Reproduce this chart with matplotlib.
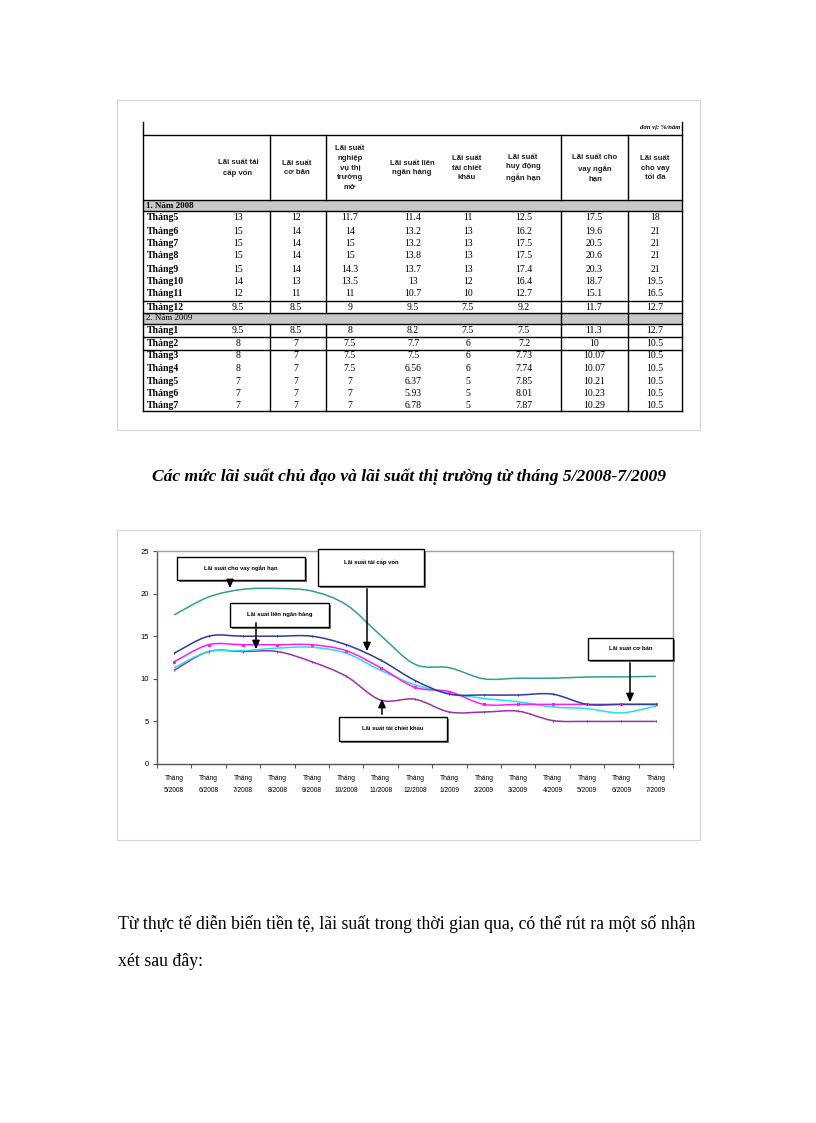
import matplotlib
matplotlib.use("Agg")
import matplotlib.pyplot as plt
from matplotlib.path import Path
from matplotlib.patches import PathPatch, Rectangle

# ---------------- data: table ----------------
col_headers = ["Lãi suất tái\ncấp vốn", "Lãi suất\ncơ bản", "Lãi suất\nnghiệp\nvụ thị\ntrường\nmở",
               "Lãi suất liên\nngân hàng", "Lãi suất\ntái chiết\nkhấu", "Lãi suất\nhuy động\nngắn hạn",
               "Lãi suất cho\nvay ngắn\nhạn", "Lãi suất\ncho vay\ntối đa"]
rows_2008 = ["Tháng5", "Tháng6", "Tháng7", "Tháng8", "Tháng9", "Tháng10", "Tháng11", "Tháng12"]
vals_2008 = [
    [13, 12, 11.7, 11.4, 11, 12.5, 17.5, 18],
    [15, 14, 14, 13.2, 13, 16.2, 19.6, 21],
    [15, 14, 15, 13.2, 13, 17.5, 20.5, 21],
    [15, 14, 15, 13.8, 13, 17.5, 20.6, 21],
    [15, 14, 14.3, 13.7, 13, 17.4, 20.3, 21],
    [14, 13, 13.5, 13, 12, 16.4, 18.7, 19.5],
    [12, 11, 11, 10.7, 10, 12.7, 15.1, 16.5],
    [9.5, 8.5, 9, 9.5, 7.5, 9.2, 11.7, 12.7],
]
rows_2009 = ["Tháng1", "Tháng2", "Tháng3", "Tháng4", "Tháng5", "Tháng6", "Tháng7"]
vals_2009 = [
    [9.5, 8.5, 8, 8.2, 7.5, 7.5, 11.3, 12.7],
    [8, 7, 7.5, 7.7, 6, 7.2, 10, 10.5],
    [8, 7, 7.5, 7.5, 6, 7.73, 10.07, 10.5],
    [8, 7, 7.5, 6.56, 6, 7.74, 10.07, 10.5],
    [7, 7, 7, 6.37, 5, 7.85, 10.21, 10.5],
    [7, 7, 7, 5.93, 5, 8.01, 10.23, 10.5],
    [7, 7, 7, 6.78, 5, 7.87, 10.29, 10.5],
]

# ---------------- data: chart ----------------
months = ["Tháng\n5/2008", "Tháng\n6/2008", "Tháng\n7/2008", "Tháng\n8/2008", "Tháng\n9/2008",
          "Tháng\n10/2008", "Tháng\n11/2008", "Tháng\n12/2008", "Tháng\n1/2009", "Tháng\n2/2009",
          "Tháng\n3/2009", "Tháng\n4/2009", "Tháng\n5/2009", "Tháng\n6/2009", "Tháng\n7/2009"]
cho_vay_ngan_han = [17.5, 19.6, 20.5, 20.6, 20.3, 18.7, 15.1, 11.7, 11.3, 10, 10.07, 10.07, 10.21, 10.23, 10.29]
tai_cap_von = [13, 15, 15, 15, 15, 14, 12.2, 9.8, 8.2, 8.1, 8.1, 8.2, 7, 7, 7]
co_ban = [12, 14, 14, 14, 14, 13.3, 11.3, 9.0, 8.5, 7, 7, 7, 7, 7, 7]
lien_ngan_hang = [11.3, 13.2, 13.3, 13.6, 13.7, 13.0, 11.0, 9.3, 8.3, 7.7, 7.3, 6.7, 6.5, 6.0, 6.8]
tai_chiet_khau = [11, 13.2, 13.2, 13.2, 12.0, 10.3, 7.5, 7.6, 6.1, 6.1, 6.2, 5.1, 5, 5, 5]
yticks = [0, 5, 10, 15, 20, 25]

W, H = 816, 1123
fig = plt.figure(figsize=(W / 100, H / 100), dpi=100)
fig.patch.set_facecolor("white")
bg = fig.add_axes([0, 0, 1, 1])
bg.set_xlim(0, W)
bg.set_ylim(H, 0)
bg.axis("off")

SERIF = "Liberation Serif"
SANS = "Liberation Sans"

# image frames
for (x0, y0, x1, y1) in [(117, 100, 700, 430), (117, 530, 700, 840)]:
    bg.add_patch(Rectangle((x0, y0), x1 - x0, y1 - y0, fill=False, ec="#d4d4d4", lw=0.8))

# ---------------- table ----------------
TL, TR = 143, 682
vlines = [270, 326, 561, 628]
col_x = [238, 296, 350, 413, 468, 524, 594, 655]
head_x = [238, 297, 350, 412, 467, 523, 595, 655]
lw_t = 1.0

bg.text(TR - 2, 128, "đơn vị: %/năm", ha="right", va="center", fontsize=4.8,
        style="italic", family=SERIF, fontweight="bold")
bg.plot([TL, TL], [122, 411], color="black", lw=lw_t)
bg.plot([TR, TR], [122, 411], color="black", lw=lw_t)
bg.plot([TL, TR], [135, 135], color="black", lw=lw_t)

for hx, htxt in zip(head_x, col_headers):
    bg.text(hx, 168, htxt, ha="center", va="center", fontsize=5.6, family=SANS,
            fontweight="bold", linespacing=1.55, color="#222222")

# gray section rows
bg.add_patch(Rectangle((TL, 200), TR - TL, 11, color="#c8c8c8", lw=0))
bg.text(TL + 3, 205.5, "1. Năm 2008", ha="left", va="center", fontsize=6.5, family=SERIF, fontweight="bold")
bg.add_patch(Rectangle((TL, 313), TR - TL, 11, color="#c8c8c8", lw=0))
bg.text(TL + 3, 318.5, "2. Năm 2009", ha="left", va="center", fontsize=6.5, family=SERIF)

for x in vlines:
    bg.plot([x, x], [135, 200], color="black", lw=lw_t)
    bg.plot([x, x], [211, 313], color="black", lw=lw_t)
    bg.plot([x, x], [324, 411], color="black", lw=lw_t)
for x in vlines[2:]:
    bg.plot([x, x], [313, 324], color="black", lw=lw_t)

for yy in [200, 211, 301, 313, 324, 337, 350, 411]:
    bg.plot([TL, TR], [yy, yy], color="black", lw=lw_t)

y08 = [218, 231, 243.5, 256, 269, 281.5, 294, 307]
for yy, name, vals in zip(y08, rows_2008, vals_2008):
    bg.text(TL + 4, yy, name, ha="left", va="center", fontsize=7, family=SERIF, fontweight="bold")
    for cx, v in zip(col_x, vals):
        bg.text(cx, yy, f"{v:g}", ha="center", va="center", fontsize=7, family=SERIF)
y09 = [330.5, 343.5, 356, 368.5, 381, 393, 405]
for yy, name, vals in zip(y09, rows_2009, vals_2009):
    bg.text(TL + 4, yy, name, ha="left", va="center", fontsize=7, family=SERIF, fontweight="bold")
    for cx, v in zip(col_x, vals):
        bg.text(cx, yy, f"{v:g}", ha="center", va="center", fontsize=7, family=SERIF)

# ---------------- title ----------------
bg.text(409, 477, "Các mức lãi suất chủ đạo và lãi suất thị trường từ tháng 5/2008-7/2009",
        ha="center", va="center", fontsize=12.6, family=SERIF, fontweight="bold", style="italic")

# ---------------- chart ----------------
AX0, AX1, AY0, AY1 = 157, 673, 551, 764
ax = fig.add_axes([AX0 / W, 1 - AY1 / H, (AX1 - AX0) / W, (AY1 - AY0) / H])
ax.set_facecolor("white")
ax.set_xlim(-0.5, len(months) - 0.5)
ax.set_ylim(0, 25)
for s in ["top", "right"]:
    ax.spines[s].set_color("#a0a0a0")
    ax.spines[s].set_linewidth(1.0)
for s in ["left", "bottom"]:
    ax.spines[s].set_color("#555555")
    ax.spines[s].set_linewidth(1.0)
ax.set_yticks(yticks)
ax.set_yticklabels([str(t) for t in yticks], fontsize=5.5, family=SANS)
ax.tick_params(axis="y", length=3, width=0.8, pad=3, color="#555555")
ax.set_xticks([i + 0.5 for i in range(-1, len(months))], minor=False)
ax.set_xticklabels([])
ax.tick_params(axis="x", length=3, width=0.8, color="#555555", direction="out")
ax.set_xticks(range(len(months)), minor=True)
ax.set_xticklabels(months, minor=True, fontsize=4.8, family=SANS, linespacing=1.9)
ax.tick_params(axis="x", which="minor", length=0, pad=8)


def smooth(xs, ys):
    verts = [(xs[0], ys[0])]
    codes = [Path.MOVETO]
    n = len(xs)
    for i in range(n - 1):
        p0 = (xs[i - 1], ys[i - 1]) if i > 0 else (xs[i], ys[i])
        p3 = (xs[i + 2], ys[i + 2]) if i + 2 < n else (xs[i + 1], ys[i + 1])
        c1 = (xs[i] + (xs[i + 1] - p0[0]) / 6, ys[i] + (ys[i + 1] - p0[1]) / 6)
        c2 = (xs[i + 1] - (p3[0] - xs[i]) / 6, ys[i + 1] - (p3[1] - ys[i]) / 6)
        verts += [c1, c2, (xs[i + 1], ys[i + 1])]
        codes += [Path.CURVE4] * 3
    return Path(verts, codes)


xs = list(range(len(months)))
series = [
    (cho_vay_ngan_han, "#2f9f8f", None),
    (tai_chiet_khau, "#9932a8", "|"),
    (lien_ngan_hang, "#22e0f0", None),
    (co_ban, "#ff1cf0", "s"),
    (tai_cap_von, "#2d3aa0", "|"),
]
for ys, col, mk in series:
    ax.add_patch(PathPatch(smooth(xs, ys), fill=False, ec=col, lw=1.1))
    if mk:
        ax.plot(xs, ys, ls="none", marker=mk, ms=2, color=col, mew=0.8)

# ---------------- annotation overlay ----------------
ov = fig.add_axes([0, 0, 1, 1], zorder=10)
ov.set_xlim(0, W)
ov.set_ylim(H, 0)
ov.axis("off")
ov.patch.set_alpha(0)

boxes = [
    (177, 557, 305, 580, "Lãi suất cho vay ngắn hạn", 568, (230, 580), (230, 591)),
    (318, 549, 424, 586, "Lãi suất tái cấp vốn", 562, (367, 586), (367, 654)),
    (230, 603, 329, 627, "Lãi suất liên ngân hàng", 614, (256, 620), (256, 652)),
    (339, 717, 447, 741, "Lãi suất tái chiết khấu", 729, (382, 717), (382, 696)),
    (588, 638, 673, 660, "Lãi suất cơ bản", 648, (630, 660), (630, 705)),
]
for x0, y0, x1, y1, txt, ty, a0, a1 in boxes:
    ov.add_patch(Rectangle((x0 + 1.5, y0 + 1.5), x1 - x0, y1 - y0, color="#7a7a7a", lw=0, zorder=5))
    ov.add_patch(Rectangle((x0, y0), x1 - x0, y1 - y0, fc="white", ec="black", lw=1.0, zorder=6))
    ov.text((x0 + x1) / 2, ty, txt, ha="center", va="center", fontsize=4.2,
            family=SANS, fontweight="bold", zorder=7)
    ov.annotate("", xy=a1, xytext=a0, zorder=8,
                arrowprops=dict(arrowstyle="-|>,head_length=0.5,head_width=0.22", color="black", lw=1.1))

# ---------------- paragraph ----------------
bg.text(118, 924, "Từ thực tế diễn biến tiền tệ, lãi suất trong thời gian qua, có thể rút ra một số nhận",
        ha="left", va="center", fontsize=12.8, family=SERIF)
bg.text(118, 962, "xét sau đây:", ha="left", va="center", fontsize=12.8, family=SERIF)

fig.savefig("out.png", dpi=100, facecolor="white")
